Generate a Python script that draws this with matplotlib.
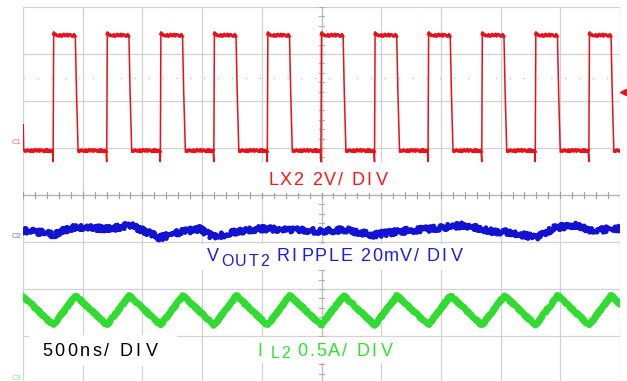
import matplotlib
matplotlib.use("Agg")
import matplotlib.pyplot as plt
from matplotlib import font_manager
from matplotlib.ft2font import FT2Font
from matplotlib.patches import Rectangle

W, H, DPI = 627, 381, 100

# ---------------- data (time in ns, vertical in screen divisions, 0 = centre) -------------
TIME_PER_DIV_NS = 500
N_XDIV = 10
N_YDIV = 8

LX2_RISE_NS = [254, 703, 1152, 1600, 2048, 2497, 2946, 3394, 3844, 4292, 4741]
LX2_FALL_NS = [442, 891, 1340, 1788, 2236, 2685, 3134, 3582, 4032, 4480, 4929]
LX2_LOW_DIV = 0.96
LX2_HIGH_DIV = 3.40
LX2_UNDERSHOOT_DIV = 0.70
LX2_OVERSHOOT_DIV = 3.47
LX2_START_SPIKE_DIV = 1.50

IL2_START_DIV = -2.16
IL2_PEAK_DIV = -2.14
IL2_TROUGH_DIV = -2.77
IL2_END_DIV = -2.34

VOUT_T_NS = [0, 142, 251, 394, 561, 729, 896, 1022, 1147, 1315, 1482, 1591, 1817, 1985,
             2236, 2487, 2697, 2940, 3157, 3409, 3693, 3911, 4078, 4296, 4455, 4614,
             4790, 4949, 5000]
VOUT_DIV = [-0.76, -0.79, -0.85, -0.70, -0.70, -0.72, -0.64, -0.77, -0.91, -0.79, -0.72,
            -0.89, -0.77, -0.72, -0.74, -0.77, -0.74, -0.85, -0.77, -0.72, -0.64, -0.77,
            -0.79, -0.91, -0.70, -0.64, -0.77, -0.70, -0.72]

TRIGGER_DIV = 2.19
REF_LEVEL_DIV = 2.49

LABEL_LX2 = "LX2 2V/ DIV"
LABEL_VOUT_MAIN, LABEL_VOUT_SUB, LABEL_VOUT_REST = "V", "OUT2", "RIPPLE 20mV/ DIV"
LABEL_TIME = "500ns/ DIV"
LABEL_IL_MAIN, LABEL_IL_SUB, LABEL_IL_REST = "I", "L2", "0.5A/ DIV"

RED, BLUE, GREEN = "#e8101a", "#1212d2", "#30dc30"
RED_T, BLUE_T, GREEN_T = "#ff1414", "#1c1ce6", "#2ee22e"
GRID = "#d2d2d2"

# ---------------- figure ----------------
fig = plt.figure(figsize=(W / DPI, H / DPI), dpi=DPI)
fig.patch.set_facecolor("white")
ax = fig.add_axes([23 / W, (H - 383) / H, 597 / W, 376 / H])
T_END = TIME_PER_DIV_NS * N_XDIV
ax.set_xlim(0, T_END)
ax.set_ylim(-N_YDIV / 2, N_YDIV / 2)
ax.axis("off")

# grid
for i in range(N_XDIV + 1):
    c = "#c6cadc" if i == N_XDIV else GRID
    ax.axvline(i * TIME_PER_DIV_NS, color=c, lw=0.9, zorder=1)
for j in range(N_YDIV + 1):
    ax.axhline(-N_YDIV / 2 + j, color=GRID, lw=0.9, zorder=1)
ax.axhline(0, color="#b4b4b4", lw=0.9, zorder=1)
ax.axvline(T_END / 2, color="#c0c0c0", lw=0.9, zorder=1)
# minor ticks on centre lines
for k in range(N_XDIV * 5 + 1):
    t = k * TIME_PER_DIV_NS / 5
    ax.plot([t, t], [-0.06, 0.06], color="#a0a0a0", lw=0.8, zorder=1)
for k in range(N_YDIV * 5 + 1):
    v = -N_YDIV / 2 + k / 5
    ax.plot([T_END / 2 - 25, T_END / 2 + 25], [v, v], color="#b0b0b0", lw=0.8, zorder=1)
ax.axhline(REF_LEVEL_DIV, color="#c4c4c4", lw=1.0, ls=(0, (1, 9)), zorder=1)

# white label boxes (pixel coords)
def px_box(x0, y0, x1, y1):
    fig.add_artist(Rectangle((x0 / W, 1 - y1 / H), (x1 - x0) / W, (y1 - y0) / H,
                             transform=fig.transFigure, facecolor="white",
                             edgecolor="none", zorder=2))

px_box(258, 163, 401, 193)
px_box(200, 244, 467, 270)
px_box(29, 335, 177, 366)
px_box(250, 337, 399, 363)

# ---------------- LX2 trace ----------------
tx, ty = [0, 2, 6], [LX2_LOW_DIV, LX2_START_SPIKE_DIV, LX2_LOW_DIV]
plateaus = []
prev_end = 8
for r, f in zip(LX2_RISE_NS, LX2_FALL_NS):
    tx += [r - 8, r - 2, r + 3, r + 14, f - 4, f + 6, f + 20, f + 34]
    ty += [LX2_LOW_DIV, LX2_UNDERSHOOT_DIV, LX2_OVERSHOOT_DIV, LX2_HIGH_DIV, LX2_HIGH_DIV,
           (LX2_HIGH_DIV + LX2_LOW_DIV) / 2, LX2_LOW_DIV - 0.06, LX2_LOW_DIV]
    plateaus.append(([prev_end, r - 8], [LX2_LOW_DIV, LX2_LOW_DIV]))
    plateaus.append(([r + 5, r + 14, f - 4], [LX2_OVERSHOOT_DIV - 0.02, LX2_HIGH_DIV, LX2_HIGH_DIV]))
    prev_end = f + 22
tx.append(T_END)
ty.append(LX2_LOW_DIV)
plateaus.append(([prev_end, T_END], [LX2_LOW_DIV, LX2_LOW_DIV]))
ax.plot(tx, ty, color=RED, lw=1.1, zorder=3, solid_joinstyle="miter")
for px_, py_ in plateaus:
    ln, = ax.plot(px_, py_, color=RED, lw=2.0, zorder=3)
    ln.set_sketch_params(scale=1.3, length=1.5, randomness=3)

# ---------------- VOUT2 trace ----------------
ln, = ax.plot(VOUT_T_NS, VOUT_DIV, color=BLUE, lw=3.4, zorder=3)
ln.set_sketch_params(scale=2.6, length=1.0, randomness=3)

# ---------------- IL2 trace ----------------
gx, gy = [0], [IL2_START_DIV]
for r, f in zip(LX2_RISE_NS, LX2_FALL_NS):
    gx += [r, f]
    gy += [IL2_TROUGH_DIV, IL2_PEAK_DIV]
gx.append(T_END)
gy.append(IL2_END_DIV)
ln, = ax.plot(gx, gy, color=GREEN, lw=4.6, zorder=3, solid_joinstyle="round")
ln.set_sketch_params(scale=0.7, length=1.0, randomness=2)

# trigger marker
ax.plot([T_END + 25], [TRIGGER_DIV], marker="<", ms=5, color=RED, clip_on=False, zorder=4)

# channel markers
for txt, ypx, col in [("C1", 143, RED), ("C2", 237, BLUE), ("C3", 379, GREEN)]:
    fig.text(12 / W, 1 - ypx / H, txt, fontsize=5.5, color=col, va="center", ha="left",
             family="Liberation Sans", alpha=0.6)

# ---------------- tracked text ----------------
FONT_PATH = font_manager.findfont(font_manager.FontProperties(family="Liberation Sans"))
_ft = FT2Font(FONT_PATH)


def adv(ch, size):
    _ft.set_size(size, DPI)
    g = _ft.load_char(ord(ch))
    return g.linearHoriAdvance / 65536.0


def tracked(s, x0, x1, ybase, size, color, i_extra=3.0):
    nat = sum(adv(c, size) for c in s)
    n_i = sum(1 for c in s[:-1] if c == "I")
    gaps = max(len(s) - 1, 1)
    track = ((x1 - x0) - nat - n_i * i_extra) / gaps
    x = x0
    for c in s:
        fig.text(x / W, 1 - ybase / H, c, fontsize=size, color=color,
                 family="Liberation Sans", va="baseline", ha="left", zorder=5)
        x += adv(c, size) + track + (i_extra if c == "I" else 0)


BIG, SMALL = 13, 11.5
tracked(LABEL_LX2, 268, 388, 185, BIG, RED_T)
tracked(LABEL_VOUT_MAIN, 207, 220, 261, BIG, BLUE_T)
tracked(LABEL_VOUT_SUB, 221, 269, 266, SMALL, BLUE_T)
tracked(LABEL_VOUT_REST, 277, 463, 261, BIG, BLUE_T)
tracked(LABEL_TIME, 42, 158, 356, BIG, "black")
tracked(LABEL_IL_MAIN, 257, 262, 356, BIG, GREEN_T)
tracked(LABEL_IL_SUB, 271, 290, 358.5, SMALL, GREEN_T)
tracked(LABEL_IL_REST, 297, 393, 356, BIG, GREEN_T)

fig.savefig("out.png", dpi=DPI, facecolor="white")
